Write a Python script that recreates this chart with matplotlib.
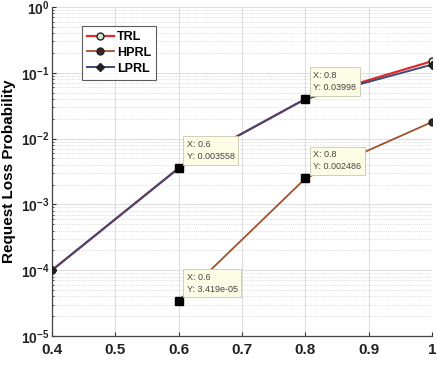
import matplotlib
matplotlib.use("Agg")
import matplotlib.pyplot as plt
import numpy as np
from matplotlib.ticker import FixedLocator, LogLocator, NullFormatter

plt.rcParams['font.family'] = ['Liberation Sans', 'DejaVu Sans']
plt.rcParams['mathtext.fontset'] = 'custom'
plt.rcParams['mathtext.rm'] = 'Liberation Sans:bold'
plt.rcParams['mathtext.bf'] = 'Liberation Sans:bold'

load = [0.4, 0.6, 0.8, 1.0]
trl = [1.0e-4, 0.003558, 0.03998, 0.150]
hprl = [np.nan, 3.419e-05, 0.002486, 0.0179]
lprl = [1.0e-4, 0.003558, 0.03998, 0.133]

tips = [(0.6, 0.003558, "0.003558"), (0.8, 0.03998, "0.03998"),
        (0.6, 3.419e-05, "3.419e-05"), (0.8, 0.002486, "0.002486")]

xticks = [0.4, 0.5, 0.6, 0.7, 0.8, 0.9, 1.0]
xticklabels = ["0.4", "0.5", "0.6", "0.7", "0.8", "0.9", "1"]
yticks = [1e-5, 1e-4, 1e-3, 1e-2, 1e-1, 1e0]
yticklabels = [r"$10^{-5}$", r"$10^{-4}$", r"$10^{-3}$", r"$10^{-2}$", r"$10^{-1}$", r"$10^{0}$"]

fig = plt.figure(figsize=(4.37, 3.65), dpi=100)
ax = fig.add_axes([0.119, 0.0795, 0.870, 0.9015])

ax.plot(load, trl, color='#e02a2a', lw=1.6, marker='o', ms=5, mfc='#cfe8cf', mec='#222222', mew=1.0, label='TRL', zorder=3)
ax.plot(load, hprl, color='#a0522d', lw=1.3, marker='o', ms=5, mfc='#3a2a20', mec='#222222', mew=1.0, label='HPRL', zorder=3)
ax.plot(load, lprl, color='#3c4a78', lw=1.4, marker='D', ms=4, mfc='#222222', mec='#222222', mew=1.0, label='LPRL', zorder=4)

ax.set_yscale('log')
ax.set_xlim(0.4, 1.0)
ax.set_ylim(1e-5, 1e0)
ax.xaxis.set_major_locator(FixedLocator(xticks))
ax.set_xticklabels(xticklabels, fontsize=11, fontweight='bold')
ax.yaxis.set_major_locator(FixedLocator(yticks))
ax.set_yticklabels(yticklabels, fontsize=10)
ax.yaxis.set_minor_locator(LogLocator(base=10, subs=np.arange(2, 10)))
ax.yaxis.set_minor_formatter(NullFormatter())

ax.grid(True, which='major', color='#dedede', lw=0.8, ls='-', zorder=0)
ax.grid(True, which='minor', axis='y', color='#cfcfcf', lw=0.6, ls=':', zorder=0)
ax.set_axisbelow(True)
ax.tick_params(direction='in', which='both', length=3, colors='#333333', labelcolor='#222222')
ax.tick_params(axis='y', pad=2)
ax.tick_params(axis='x', pad=5)
ax.tick_params(which='minor', length=1.5)
for s in ['top', 'right']:
    ax.spines[s].set_visible(False)
for s in ['left', 'bottom']:
    ax.spines[s].set_color('#444444')
    ax.spines[s].set_linewidth(0.9)

ax.set_ylabel('Request Loss Probability', fontsize=11, fontweight='bold')
ax.yaxis.set_label_coords(-0.094, 0.5)
ax.set_xlabel('Load', fontsize=11, fontweight='bold', labelpad=6)

for x, y, txt in tips:
    ax.plot([x], [y], marker='s', ms=6, color='black', zorder=6, ls='none')
    ax.annotate("X: %s\nY: %s" % (("%g" % x), txt), xy=(x, y), xytext=(8, 7),
                textcoords='offset pixels', ha='left', va='bottom', fontsize=6.5,
                color='#444444', linespacing=1.45, zorder=7,
                bbox=dict(boxstyle='square,pad=0.4', fc='#fdfde6', ec='#c8c8b0', lw=0.6))

leg = ax.legend(loc='upper left', bbox_to_anchor=(0.078, 0.942),
                prop={'weight': 'bold', 'size': 9}, frameon=True, fancybox=False,
                edgecolor='#333333', handlelength=2.2, handletextpad=0.2,
                borderpad=0.4, labelspacing=0.3, borderaxespad=0.0)
leg.get_frame().set_linewidth(0.8)

fig.savefig('out.png', dpi=100)
